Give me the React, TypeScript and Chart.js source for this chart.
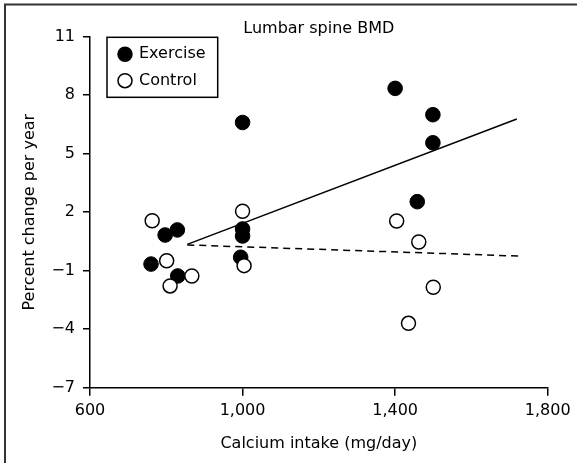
import React, { useEffect, useRef } from 'react';
import Chart from 'chart.js/auto';

const exerciseX = [1000, 1400, 1499, 1499, 1458, 797, 829, 760, 830, 1000, 1000, 995];
const exerciseY = [6.6, 8.35, 7.0, 5.56, 2.54, 0.83, 1.09, -0.66, -1.27, 1.14, 0.78, -0.31];
const controlX = [763, 801, 810, 867, 1000, 1004, 1404, 1462, 1500, 1435];
const controlY = [1.56, -0.49, -1.78, -1.27, 2.05, -0.74, 1.55, 0.47, -1.85, -3.7];
const exerciseFitX = [855, 1719];
const exerciseFitY = [0.35, 6.78];
const controlFitX = [855, 1726];
const controlFitY = [0.32, -0.25];
const xTicks = [600, 1000, 1400, 1800];
const xTickLabels = ['600', '1,000', '1,400', '1,800'];
const yTicks = [-7, -4, -1, 2, 5, 8, 11];
const yTickLabels = ['\u22127', '\u22124', '\u22121', '2', '5', '8', '11'];
const legendLabels = ['Exercise', 'Control'];
const chartTitle = 'Lumbar spine BMD';
const xTitle = 'Calcium intake (mg/day)';
const yTitle = 'Percent change per year';

const FONT = '"DejaVu Sans", sans-serif';
const W = 577;
const H = 463;

const zip = (xs: number[], ys: number[]) => xs.map((x, i) => ({ x, y: ys[i] }));

const decorPlugin = {
  id: 'decor',
  afterDraw(chart: any) {
    const { ctx, chartArea } = chart;
    ctx.save();
    // outer frame (top + left visible)
    ctx.strokeStyle = '#333';
    ctx.lineWidth = 2;
    ctx.beginPath();
    ctx.moveTo(5, 463);
    ctx.lineTo(5, 4.5);
    ctx.lineTo(577, 4.5);
    ctx.stroke();
    // title
    ctx.fillStyle = '#000';
    ctx.font = `16px ${FONT}`;
    ctx.textAlign = 'center';
    ctx.textBaseline = 'middle';
    ctx.fillText(chartTitle, (chartArea.left + chartArea.right) / 2, chartArea.top - 8);
    // legend box
    const bx = chartArea.left + 17;
    const by = chartArea.top + 0.6;
    ctx.lineWidth = 1.5;
    ctx.strokeStyle = '#000';
    ctx.strokeRect(bx, by, 110.7, 60);
    ctx.textAlign = 'left';
    legendLabels.forEach((lab, i) => {
      const cy = by + 17 + i * 26.4;
      ctx.beginPath();
      ctx.arc(bx + 18, cy, 7, 0, Math.PI * 2);
      ctx.fillStyle = i === 0 ? '#000' : '#fff';
      ctx.fill();
      ctx.lineWidth = 1.5;
      ctx.stroke();
      ctx.fillStyle = '#000';
      ctx.fillText(lab, bx + 32, cy);
    });
    ctx.restore();
  },
};

export default function App() {
  const ref = useRef<HTMLCanvasElement>(null);
  useEffect(() => {
    if (!ref.current) return;
    const chart = new Chart(ref.current, {
      type: 'scatter',
      data: {
        datasets: [
          {
            label: legendLabels[1],
            data: zip(controlX, controlY),
            pointRadius: 7,
            pointBackgroundColor: '#fff',
            pointBorderColor: '#000',
            pointBorderWidth: 1.5,
            showLine: false,
          },
          {
            label: legendLabels[0],
            data: zip(exerciseX, exerciseY),
            pointRadius: 7.3,
            pointBackgroundColor: '#000',
            pointBorderColor: '#000',
            pointBorderWidth: 1,
            showLine: false,
          },
          {
            label: 'Exercise fit',
            data: zip(exerciseFitX, exerciseFitY),
            showLine: true,
            pointRadius: 0,
            borderColor: '#000',
            borderWidth: 1.5,
          },
          {
            label: 'Control fit',
            data: zip(controlFitX, controlFitY),
            showLine: true,
            pointRadius: 0,
            borderColor: '#000',
            borderWidth: 1.5,
            borderDash: [7, 5],
          },
        ],
      },
      options: {
        animation: false,
        responsive: false,
        maintainAspectRatio: false,
        layout: { padding: { top: 36.7, right: 29.3, left: 0, bottom: 0 } },
        plugins: { legend: { display: false }, tooltip: { enabled: false }, title: { display: false } },
        scales: {
          x: {
            type: 'linear',
            min: 600,
            max: 1800,
            afterFit: (s: any) => { s.height = H - 387.7; },
            afterBuildTicks: (s: any) => { s.ticks = xTicks.map((v) => ({ value: v })); },
            ticks: {
              callback: (v: any) => { const i = xTicks.indexOf(Number(v)); return i >= 0 ? xTickLabels[i] : ''; },
              color: '#000',
              font: { family: FONT, size: 16 },
              padding: 6,
              maxRotation: 0,
            },
            grid: { drawOnChartArea: false, drawTicks: true, tickLength: 8, color: '#000', lineWidth: 1.5 },
            border: { display: true, color: '#000', width: 1.5 },
            title: { display: true, text: xTitle, color: '#000', font: { family: FONT, size: 16 }, padding: { top: 0, bottom: 10 } },
          },
          y: {
            type: 'linear',
            min: -7,
            max: 11,
            afterFit: (s: any) => { s.width = 90; },
            afterBuildTicks: (s: any) => { s.ticks = yTicks.map((v) => ({ value: v })); },
            ticks: {
              callback: (v: any) => { const i = yTicks.indexOf(Number(v)); return i >= 0 ? yTickLabels[i] : ''; },
              color: '#000',
              font: { family: FONT, size: 16 },
              padding: 8,
            },
            grid: { drawOnChartArea: false, drawTicks: true, tickLength: 7, color: '#000', lineWidth: 1.5 },
            border: { display: true, color: '#000', width: 1.5 },
            title: { display: true, text: yTitle, color: '#000', font: { family: FONT, size: 16 }, padding: { top: 20, bottom: 0 } },
          },
        },
      },
      plugins: [decorPlugin],
    } as any);
    return () => chart.destroy();
  }, []);
  return (
    <div style={{ position: 'absolute', left: 0, top: 0, width: W, height: H, background: '#fff' }}>
      <canvas ref={ref} width={W} height={H} style={{ display: 'block', width: W, height: H }} />
    </div>
  );
}
